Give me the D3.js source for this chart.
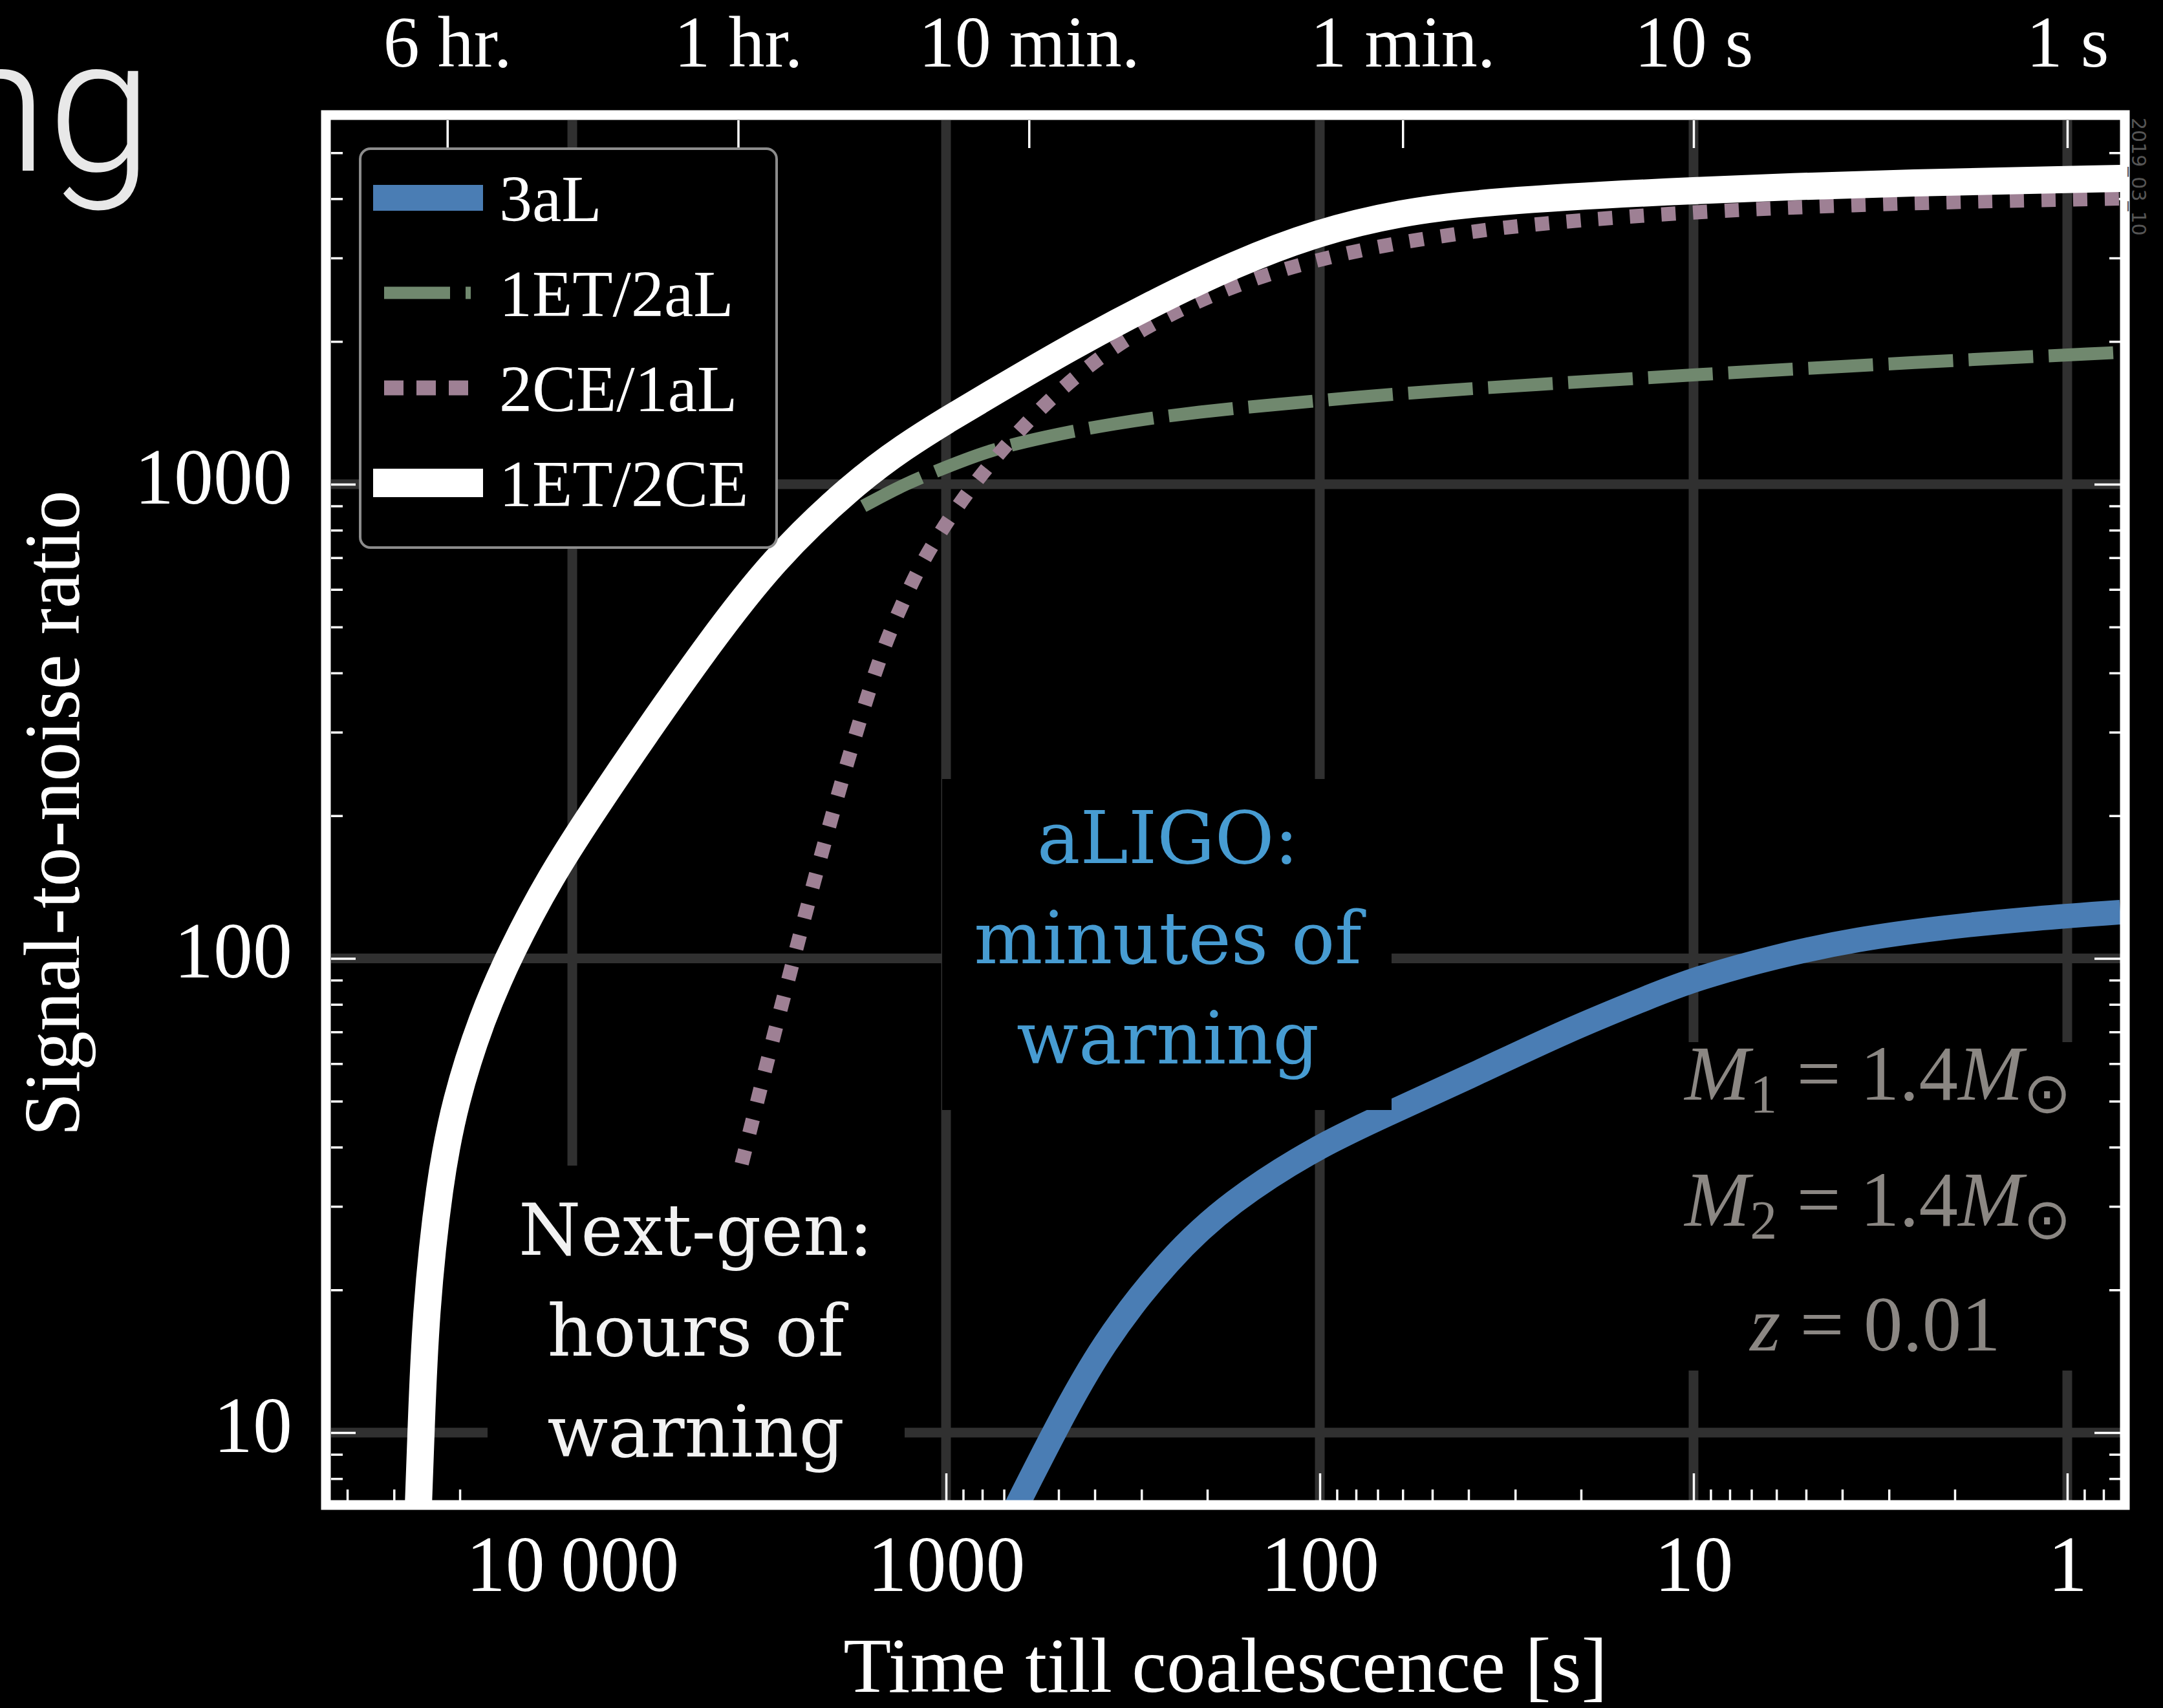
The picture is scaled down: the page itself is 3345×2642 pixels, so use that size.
<!DOCTYPE html>
<html lang="en">
<head>
<meta charset="UTF-8">
<title>Signal-to-noise ratio vs time till coalescence</title>
<style>
  html, body { margin: 0; background: #000; }
  svg { display: block; }
</style>
</head>
<body>
<svg id="chart" width="3345" height="2642"></svg>
<script src="https://cdn.jsdelivr.net/npm/d3@7"></script>
<script>
// values: time till coalescence [s] and accumulated SNR
const t3aL   = [648, 512, 383, 252, 174.7, 100.8, 64.3, 37.4, 22.1, 12.9, 10, 6.03, 3.62, 2.17, 1.31, 0.721];
const snr3aL = [6.99, 10.1, 15.4, 23.4, 30.6, 40.3, 47.4, 57.6, 70.2, 83.5, 90.3, 101.1, 110.0, 116.1, 121.0, 125.2];

const tETaL   = [1665, 1285, 995, 772, 557, 361, 206, 130.6, 78.4, 47.3, 28.4, 10.2, 2.5, 0.718];
const snrETaL = [899, 1003, 1088, 1177, 1254, 1343, 1426, 1472, 1528, 1576, 1616, 1700, 1810, 1897];

const tCEaL   = [3522, 3188, 2885, 2602, 2346, 2106, 1884, 1672, 1472, 1235, 1092, 877, 682, 522, 380, 273, 191, 130.6, 89.1, 61.0, 41.1, 27.7, 10.2, 2.50, 0.718];
const snrCEaL = [36.9, 50.5, 69.2, 94.6, 129.6, 177.4, 242.7, 332.3, 454.8, 622.5, 744.6, 966, 1227, 1528, 1885, 2213, 2525, 2818, 3048, 3236, 3391, 3532, 3762, 3930, 4005];

const tETCE   = [25800, 25400, 24700, 22700, 20570, 17470, 14600, 11500, 8700, 6324, 4367, 2908, 1768, 1285, 996, 772, 465, 279.5, 168.5, 101.2, 61.0, 36.6, 10.24, 2.50, 0.718];
const snrETCE = [7.1, 10.0, 17.9, 33.7, 50.2, 75.0, 103.3, 147.8, 207.5, 300.6, 454.8, 692.7, 1003, 1204, 1365, 1538, 1945, 2408, 2917, 3402, 3737, 3943, 4172, 4332, 4415];

const seriesNames = ["3aL", "1ET/2aL", "2CE/1aL", "1ET/2CE"];

const xMajor  = [10000, 1000, 100, 10, 1];
const xLabels = ["10\u2009000", "1000", "100", "10", "1"];
const topTicks  = [21600, 3600, 600, 60, 10, 1];
const topLabels = ["6 hr.", "1 hr.", "10 min.", "1 min.", "10 s", "1 s"];
const yMajor  = [10, 100, 1000];

const nextGenLines = ["Next-gen:", "hours of", "warning"];
const aligoLines   = ["aLIGO:", "minutes of", "warning"];

// ---------------------------------------------------------------
const serif = "'Liberation Serif', 'Times New Roman', serif";
const slab  = "'DejaVu Serif', serif";
const plot = { left: 512, right: 3279, top: 186, bottom: 2321 };

const styles = {
  "3aL":     { color: "#4a7db4", width: 38, dash: null },
  "1ET/2aL": { color: "#70886e", width: 20, dash: "100,24" },
  "2CE/1aL": { color: "#9e8094", width: 22, dash: "22,27" },
  "1ET/2CE": { color: "#ffffff", width: 42, dash: null }
};
const seriesData = [
  d3.zip(t3aL, snr3aL), d3.zip(tETaL, snrETaL), d3.zip(tCEaL, snrCEaL), d3.zip(tETCE, snrETCE)
];

const x = d3.scaleLog().domain([44200, 0.7212]).range([plot.left, plot.right]);
const y = d3.scaleLog().domain([7.194, 5855]).range([plot.bottom, plot.top]);

const isMajor = v => Math.abs(Math.log10(v) - Math.round(Math.log10(v))) < 1e-9;
const xMinor = x.ticks().filter(v => !isMajor(v));
const yMinor = y.ticks().filter(v => !isMajor(v));

const svg = d3.select("#chart");
svg.append("rect").attr("width", 3345).attr("height", 2642).attr("fill", "#000");

// leftover of the slide title, cut by the left edge
svg.append("text")
  .attr("x", 236).attr("y", 264)
  .attr("text-anchor", "end")
  .attr("font-family", "Roboto, 'Open Sans', sans-serif")
  .attr("font-weight", 300)
  .attr("font-size", 292)
  .attr("fill", "#e8e8e8")
  .text("ng");

svg.append("defs").append("clipPath").attr("id", "plotclip")
  .append("rect")
  .attr("x", plot.left).attr("y", plot.top)
  .attr("width", plot.right - plot.left).attr("height", plot.bottom - plot.top);

// grid
const grid = svg.append("g").attr("stroke", "#303030").attr("stroke-width", 15);
grid.selectAll(".gx").data(xMajor).join("line").attr("class", "gx")
  .attr("x1", d => x(d)).attr("x2", d => x(d))
  .attr("y1", plot.top).attr("y2", plot.bottom);
grid.selectAll(".gy").data(yMajor).join("line").attr("class", "gy")
  .attr("x1", plot.left).attr("x2", plot.right)
  .attr("y1", d => y(d)).attr("y2", d => y(d));

// ticks (all pointing inward)
function styleAxis(g) {
  g.attr("color", "#fff").attr("font-family", serif);
  g.select(".domain").remove();
  g.selectAll(".tick line").attr("stroke-width", 3.5);
}

const axB = svg.append("g").attr("transform", `translate(0,${plot.bottom})`)
  .call(d3.axisBottom(x).tickValues(xMajor).tickSize(-42).tickFormat((d, i) => xLabels[i]));
styleAxis(axB);
axB.attr("font-size", 122);
axB.selectAll("text").attr("y", 140).attr("dy", null);

svg.append("g").attr("transform", `translate(0,${plot.bottom})`)
  .call(d3.axisBottom(x).tickValues(xMinor).tickSize(-17).tickFormat(""))
  .call(styleAxis);

const axT = svg.append("g").attr("transform", `translate(0,${plot.top})`)
  .call(d3.axisTop(x).tickValues(topTicks).tickSize(-43).tickFormat((d, i) => topLabels[i]));
styleAxis(axT);
axT.attr("font-size", 112);
axT.selectAll("text").attr("y", -83).attr("dy", null);

const axL = svg.append("g").attr("transform", `translate(${plot.left},0)`)
  .call(d3.axisLeft(y).tickValues(yMajor).tickSize(-38).tickFormat(d3.format("d")));
styleAxis(axL);
axL.attr("font-size", 122);
axL.selectAll("text").attr("x", -60).attr("y", 29).attr("dy", null);

svg.append("g").attr("transform", `translate(${plot.left},0)`)
  .call(d3.axisLeft(y).tickValues(yMinor).tickSize(-18).tickFormat(""))
  .call(styleAxis);

svg.append("g").attr("transform", `translate(${plot.right},0)`)
  .call(d3.axisRight(y).tickValues(yMajor).tickSize(-40).tickFormat(""))
  .call(styleAxis);
svg.append("g").attr("transform", `translate(${plot.right},0)`)
  .call(d3.axisRight(y).tickValues(yMinor).tickSize(-17).tickFormat(""))
  .call(styleAxis);

// curves (B-spline through the read-off points to keep them smooth)
const line = d3.line()
  .x(d => x(d[0]))
  .y(d => y(d[1]))
  .curve(d3.curveBasis);

svg.append("g").attr("clip-path", "url(#plotclip)")
  .selectAll("path")
  .data(seriesData)
  .join("path")
  .attr("d", line)
  .attr("fill", "none")
  .attr("stroke", (d, i) => styles[seriesNames[i]].color)
  .attr("stroke-width", (d, i) => styles[seriesNames[i]].width)
  .attr("stroke-dasharray", (d, i) => styles[seriesNames[i]].dash)
  .attr("stroke-linecap", "butt");

// annotation boxes (black background hides grid and curves behind)
svg.append("rect").attr("x", 754).attr("y", 1803).attr("width", 645).attr("height", 518).attr("fill", "#000");
svg.append("rect").attr("x", 1457).attr("y", 1205).attr("width", 695).attr("height", 512).attr("fill", "#000");
svg.append("rect").attr("x", 2560).attr("y", 1612).attr("width", 690).attr("height", 508).attr("fill", "#000");

svg.append("g")
  .attr("font-family", slab).attr("font-size", 110)
  .attr("text-anchor", "middle").attr("fill", "#f2f2f2")
  .selectAll("text").data(nextGenLines).join("text")
  .attr("x", 1076).attr("y", (d, i) => 1941 + i * 156)
  .text(d => d);

svg.append("g")
  .attr("font-family", slab).attr("font-size", 112)
  .attr("text-anchor", "middle").attr("fill", "#479cd2")
  .selectAll("text").data(aligoLines).join("text")
  .attr("x", 1806).attr("y", (d, i) => 1335 + i * 155)
  .text(d => d);

// binary parameters
const params = svg.append("g")
  .attr("font-family", serif).attr("font-size", 121)
  .attr("text-anchor", "middle").attr("fill", "#8b8783");
[["1", 1701], ["2", 1896]].forEach(([sub, yy]) => {
  const t = params.append("text").attr("x", 2904).attr("y", yy);
  t.append("tspan").attr("font-style", "italic").text("M");
  t.append("tspan").attr("font-size", 84).attr("dy", 20).text(sub);
  t.append("tspan").attr("dy", -20).text(" = 1.4");
  t.append("tspan").attr("font-style", "italic").text("M");
  t.append("tspan").attr("font-size", 88).attr("dy", 20).attr("font-family", "'DejaVu Sans', sans-serif").text("\u2299");
});
const zt = params.append("text").attr("x", 2900).attr("y", 2089);
zt.append("tspan").attr("font-style", "italic").text("z");
zt.append("tspan").text(" = 0.01");

// legend
const legend = svg.append("g");
legend.append("rect")
  .attr("x", 557).attr("y", 230).attr("width", 644).attr("height", 617)
  .attr("rx", 16).attr("fill", "#000")
  .attr("stroke", "#8c8c8c").attr("stroke-width", 4);
const swatch = {
  "3aL":     { x1: 577, x2: 747, w: 40, dash: null },
  "1ET/2aL": { x1: 594, x2: 728, w: 19, dash: "102,24" },
  "2CE/1aL": { x1: 594, x2: 724, w: 23, dash: "30,20" },
  "1ET/2CE": { x1: 577, x2: 747, w: 44, dash: null }
};
seriesNames.forEach((name, i) => {
  const cy = 306 + i * 147;
  const s = swatch[name];
  legend.append("line")
    .attr("x1", s.x1).attr("x2", s.x2).attr("y1", cy).attr("y2", cy)
    .attr("stroke", styles[name].color).attr("stroke-width", s.w)
    .attr("stroke-dasharray", s.dash);
  legend.append("text")
    .attr("x", 772).attr("y", cy + 36)
    .attr("font-family", serif).attr("font-size", 102).attr("fill", "#fff")
    .text(name);
});

// frame
svg.append("rect")
  .attr("x", 504).attr("y", 178).attr("width", 2782).attr("height", 2150)
  .attr("fill", "none").attr("stroke", "#fff").attr("stroke-width", 15);

// axis titles
svg.append("text")
  .attr("x", 1895).attr("y", 2617)
  .attr("text-anchor", "middle")
  .attr("font-family", serif).attr("font-size", 121).attr("fill", "#fff")
  .text("Time till coalescence [s]");

svg.append("text")
  .attr("transform", "translate(122,1258) rotate(-90)")
  .attr("text-anchor", "middle")
  .attr("font-family", serif).attr("font-size", 122).attr("fill", "#fff")
  .text("Signal-to-noise ratio");

// date stamp on the right edge
svg.append("text")
  .attr("transform", "translate(3297,182) rotate(90)")
  .attr("font-family", "'DejaVu Sans', sans-serif").attr("font-size", 30)
  .attr("fill", "#555")
  .text("2019_03_10");
</script>
</body>
</html>
